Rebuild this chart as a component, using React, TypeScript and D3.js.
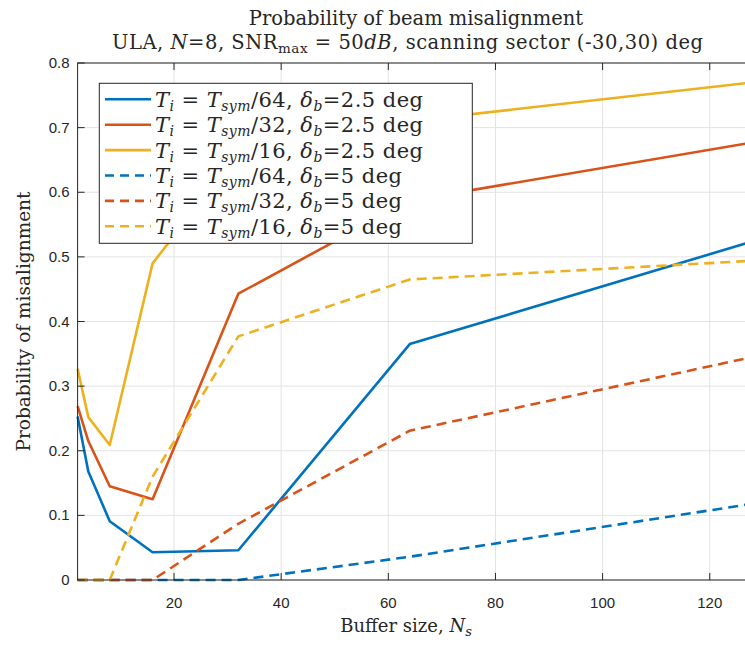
import React from "react";
import * as d3 from "d3";

const xs = [2, 4, 8, 16, 32, 64, 128];
const blue25 = [0.253, 0.168, 0.091, 0.043, 0.046, 0.365, 0.524];
const red25 = [0.269, 0.215, 0.145, 0.125, 0.443, 0.587, 0.677];
const yel25 = [0.327, 0.252, 0.209, 0.49, 0.66, 0.71, 0.77];
const blue5 = [0, 0, 0, 0, 0, 0.036, 0.118];
const red5 = [0, 0, 0, 0, 0.087, 0.231, 0.345];
const yel5 = [0, 0, 0, 0.16, 0.377, 0.465, 0.494];

const xTicks = [20, 40, 60, 80, 100, 120];
const yTicks = [0, 0.1, 0.2, 0.3, 0.4, 0.5, 0.6, 0.7, 0.8];

const divisors = ["64", "32", "16", "64", "32", "16"];
const deltas = ["2.5", "2.5", "2.5", "5", "5", "5"];
const seriesValues = [blue25, red25, yel25, blue5, red5, yel5];
const colors = ["#0072BD", "#D95319", "#EDB120", "#0072BD", "#D95319", "#EDB120"];
const dashed = [false, false, false, true, true, true];

const W = 745;
const H = 647;
const L = 77.6;
const R = 752.6;
const T = 63;
const B = 580;

const serif = "'DejaVu Serif', serif";
const sans = "'Liberation Sans', Arial, sans-serif";
const axisColor = "#262626";

export default function App() {
  const x = d3.scaleLinear().domain([2, 128]).range([L, R]);
  const y = d3.scaleLinear().domain([0, 0.8]).range([B, T]);
  const line = d3
    .line<[number, number]>()
    .x((d) => x(d[0]))
    .y((d) => y(d[1]));

  const legX = 99.3;
  const legY = 83.3;
  const legW = 373;
  const legH = 160;
  const rowY0 = 99.3;
  const rowDy = 25.4;

  return (
    <div style={{ position: "fixed", left: 0, top: 0, width: W, height: H, overflow: "hidden", background: "#fff" }}>
      <svg width={W} height={H} style={{ display: "block" }}>
        <rect x={0} y={0} width={W} height={H} fill="#fff" />
        {/* grid */}
        {xTicks.map((t) => (
          <line key={"gx" + t} x1={x(t)} x2={x(t)} y1={T} y2={B} stroke="#e3e3e3" strokeWidth={1} />
        ))}
        {yTicks.map((t) => (
          <line key={"gy" + t} x1={L} x2={R} y1={y(t)} y2={y(t)} stroke="#e3e3e3" strokeWidth={1} />
        ))}
        {/* series */}
        {seriesValues.map((vals, i) => (
          <path
            key={"s" + i}
            d={line(xs.map((xv, j) => [xv, vals[j]] as [number, number])) || ""}
            fill="none"
            stroke={colors[i]}
            strokeWidth={2.6}
            strokeDasharray={dashed[i] ? "10 6" : undefined}
            strokeLinejoin="round"
          />
        ))}
        {/* axes box */}
        <rect x={L} y={T} width={R - L} height={B - T} fill="none" stroke={axisColor} strokeWidth={1} />
        {xTicks.map((t) => (
          <g key={"tx" + t}>
            <line x1={x(t)} x2={x(t)} y1={B} y2={B - 7} stroke={axisColor} />
            <line x1={x(t)} x2={x(t)} y1={T} y2={T + 7} stroke={axisColor} />
            <text x={x(t)} y={B + 28} textAnchor="middle" fontFamily={sans} fontSize={15} fill={axisColor}>
              {t}
            </text>
          </g>
        ))}
        {yTicks.map((t) => (
          <g key={"ty" + t}>
            <line x1={L} x2={L + 7} y1={y(t)} y2={y(t)} stroke={axisColor} />
            <line x1={R} x2={R - 7} y1={y(t)} y2={y(t)} stroke={axisColor} />
            <text x={L - 8} y={y(t) + 5} textAnchor="end" fontFamily={sans} fontSize={15} fill={axisColor}>
              {t === 0 ? "0" : t.toFixed(1)}
            </text>
          </g>
        ))}
        {/* titles */}
        <text x={416} y={25} textAnchor="middle" fontFamily={serif} fontSize={19.5} fill={axisColor}>
          Probability of beam misalignment
        </text>
        <text
          x={112}
          y={49}
          textLength={591}
          lengthAdjust="spacing"
          fontFamily={serif}
          fontSize={19.5}
          fill={axisColor}
        >
          <tspan>{"ULA, "}</tspan>
          <tspan fontStyle="italic">N</tspan>
          <tspan>{"=8, SNR"}</tspan>
          <tspan fontSize={13.5} dy={4}>max</tspan>
          <tspan dy={-4}>{" = 50"}</tspan>
          <tspan fontStyle="italic">dB</tspan>
          <tspan>{", scanning sector (-30,30) deg"}</tspan>
        </text>
        <text x={406} y={632} textAnchor="middle" fontFamily={serif} fontSize={18} fill={axisColor}>
          <tspan>{"Buffer size, "}</tspan>
          <tspan fontStyle="italic">N</tspan>
          <tspan fontStyle="italic" fontSize={13} dy={4}>s</tspan>
        </text>
        <text
          transform={`translate(30,${(T + B) / 2}) rotate(-90)`}
          textAnchor="middle"
          fontFamily={serif}
          fontSize={18.5}
          fill={axisColor}
        >
          Probability of misalignment
        </text>
        {/* legend */}
        <rect x={legX} y={legY} width={legW} height={legH} fill="#fff" stroke={axisColor} strokeWidth={1} />
        {seriesValues.map((_, i) => {
          const ry = rowY0 + i * rowDy;
          return (
            <g key={"lg" + i}>
              <line
                x1={105}
                x2={151}
                y1={ry}
                y2={ry}
                stroke={colors[i]}
                strokeWidth={2.6}
                strokeDasharray={dashed[i] ? "9 6" : undefined}
              />
              <text
                x={155}
                y={ry + 7.5}
                fontFamily={serif}
                fontSize={21}
                letterSpacing={0.45}
                fill={axisColor}
              >
                <tspan fontStyle="italic">T</tspan>
                <tspan fontStyle="italic" fontSize={14} dy={4}>i</tspan>
                <tspan dy={-4}>{" = "}</tspan>
                <tspan fontStyle="italic">T</tspan>
                <tspan fontStyle="italic" fontSize={14} dy={4}>sym</tspan>
                <tspan dy={-4}>{"/" + divisors[i] + ", "}</tspan>
                <tspan fontStyle="italic">δ</tspan>
                <tspan fontStyle="italic" fontSize={14} dy={4}>b</tspan>
                <tspan dy={-4}>{"=" + deltas[i] + " deg"}</tspan>
              </text>
            </g>
          );
        })}
      </svg>
    </div>
  );
}
